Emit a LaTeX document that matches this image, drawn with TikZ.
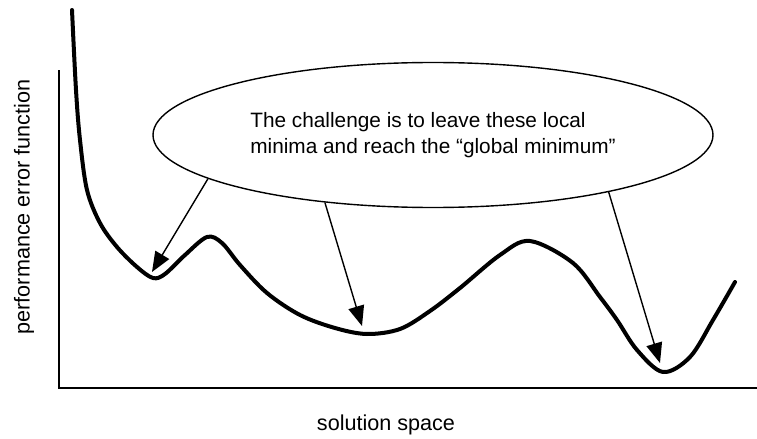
\documentclass[tikz,border=0pt]{standalone}
\usepackage{fontspec}
\setmainfont{Liberation Sans}
\usetikzlibrary{arrows.meta,shapes.geometric}
\begin{document}
\begin{tikzpicture}[x=0.5pt,y=-0.5pt,
        axisline/.style={line width=1pt},
        axislabel/.style={font=\fontsize{10.8}{13}\selectfont},
        errcurve/.style={line width=2pt, line join=round, line cap=round},
        pointer/.style={line width=0.7pt, -{Triangle[length=10pt,width=8pt]}},
        bubble/.style={ellipse, draw, line width=0.7pt, minimum width=280pt, minimum height=72.5pt,
                       inner sep=0pt, align=left, font=\fontsize{10.4}{13}\selectfont}]
    \useasboundingbox (0,0) rectangle (757,439);
    \def\axisY{388}    % height of the horizontal axis
    \def\axisX{59}     % position of the vertical axis
    % axes
    \coordinate (top) at (\axisX,70);
    \coordinate (origin) at (\axisX,\axisY);
    \coordinate (right) at (757,\axisY);
    \draw[axisline] (top) -- (origin) -- (right);
    \node[axislabel, rotate=90] (ylabel) at (24,207) {performance error function};
    \node[axislabel] (xlabel) at (386,425) {solution space};
    % error landscape
    \draw[errcurve] plot[smooth, tension=0.55] coordinates {
        (72,10) (76,90) (80,140) (87,190) (100,223) (117,247) (137,267) (153,278)
        (165,274) (185,255) (207,237) (222,243) (240,265) (267,293) (300,315) (335,328)
        (367,334) (400,329) (430,311) (460,288) (500,255) (530,241) (573,263) (600,297)
        (617,320) (637,350) (663,372) (690,357) (713,320) (735,282)};
    % the three minima
    \coordinate (m1) at (152,272);
    \coordinate (m2) at (362,326);
    \coordinate (m3) at (660,363);
    % callout
    \node[bubble] (callout) at (433,135) {The challenge is to leave these local\\minima and reach the ``global minimum''};
    \foreach \A/\M in {191/m1, 212/m2, 342/m3}
        \draw[pointer] (callout.\A) -- (\M);
\end{tikzpicture}
\end{document}
